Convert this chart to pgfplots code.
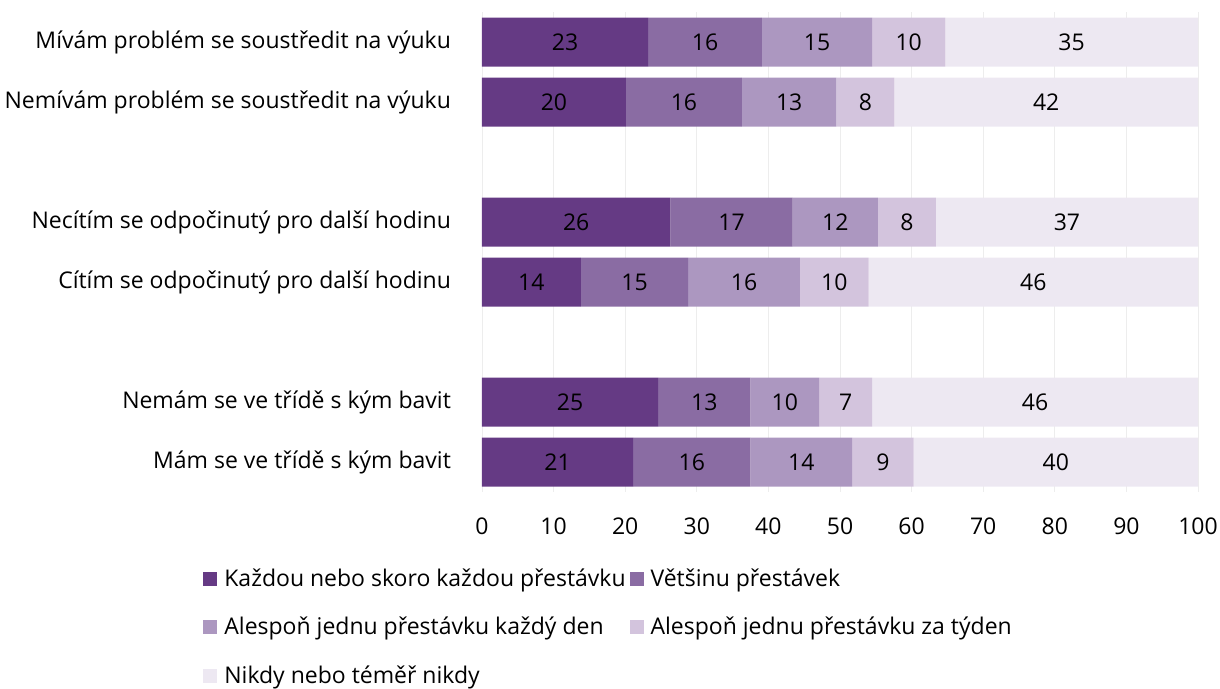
\documentclass[border=0pt]{standalone}
\usepackage{pgfplots}
\pgfplotsset{compat=1.18}
\usepackage{pgfplotstable}
\usepackage{fontspec}
\setmainfont{Open Sans}

\definecolor{c1}{HTML}{653A84}
\definecolor{c2}{HTML}{8A6CA3}
\definecolor{c3}{HTML}{AC97C0}
\definecolor{c4}{HTML}{D3C4DD}
\definecolor{c5}{HTML}{EDE8F2}

% shares in %, row position on the category axis (2 and 5 are empty gaps)
\pgfplotstableread{
pos a    b    c    d    e    la lb lc ld le
0   23.2 15.9 15.4 10.2 35.3 23 16 15 10 35
1   20.1 16.2 13.2 8.1  42.4 20 16 13 8  42
3   26.3 17.1 11.9 8.1  36.6 26 17 12 8  37
4   13.8 15.0 15.6 9.6  46.0 14 15 16 10 46
6   24.6 12.9 9.6  7.4  45.5 25 13 10 7  46
7   21.1 16.4 14.2 8.6  39.7 21 16 14 9  40
}\data

\begin{document}
\begin{tikzpicture}
\useasboundingbox (-241pt,-98.5pt) rectangle (369pt,246pt);
\begin{axis}[
    name=ax,
    xbar stacked,
    scale only axis,
    width=358pt, height=240pt,
    bar width=24.5pt,
    xmin=0, xmax=100,
    ymin=-0.5, ymax=7.5,
    y dir=reverse,
    xtick={0,10,...,100},
    ytick={0,1,3,4,6,7},
    yticklabels={Mívám problém se soustředit na výuku,
                 Nemívám problém se soustředit na výuku,
                 Necítím se odpočinutý pro další hodinu,
                 Cítím se odpočinutý pro další hodinu,
                 Nemám se ve třídě s kým bavit,
                 Mám se ve třídě s kým bavit},
    axis line style={draw=none},
    tick style={draw=none},
    xmajorgrids,
    grid style={color=black!7},
    font=\fontsize{11.5}{13}\selectfont,
    /pgf/number format/assume math mode=true,
    yticklabel style={xshift=-12pt},
    xticklabel style={yshift=-9.5pt},
    nodes near coords,
    point meta=explicit symbolic,
    every node near coord/.append style={text=black},
    legend columns=2,
    legend cell align=left,
    legend style={at={(-0.3897,-0.150)}, anchor=north west, draw=none, fill=none,
        inner sep=0pt, row sep=10pt,
        /tikz/every odd column/.style={column sep=1.5pt}},
    legend image code/.code={\fill[#1] (0pt,-3.5pt) rectangle (7pt,3.5pt);},
]
\addplot[fill=c1, draw=none] table[x=a, y=pos, meta=la]{\data};
\addplot[fill=c2, draw=none] table[x=b, y=pos, meta=lb]{\data};
\addplot[fill=c3, draw=none] table[x=c, y=pos, meta=lc]{\data};
\addplot[fill=c4, draw=none] table[x=d, y=pos, meta=ld]{\data};
\addplot[fill=c5, draw=none] table[x=e, y=pos, meta=le]{\data};
\legend{Každou nebo skoro každou přestávku, Většinu přestávek,
        Alespoň jednu přestávku každý den, Alespoň jednu přestávku za týden,
        Nikdy nebo téměř nikdy}
\end{axis}
\end{tikzpicture}
\end{document}
